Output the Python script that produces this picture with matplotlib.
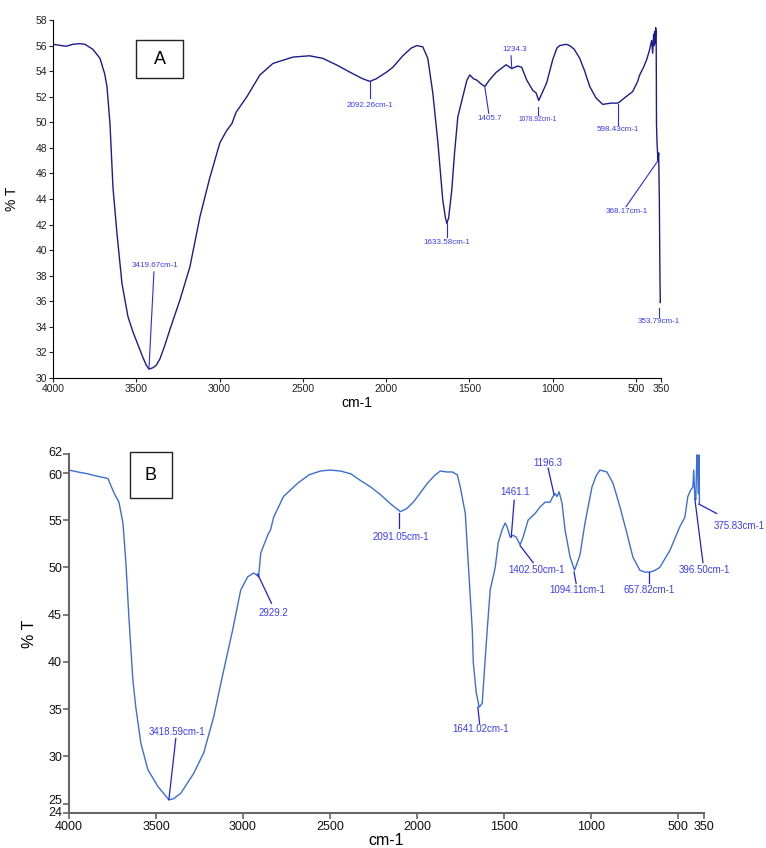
import numpy as np, matplotlib
matplotlib.use("Agg"); import matplotlib.pyplot as plt
from matplotlib.patches import Rectangle
from matplotlib.transforms import ScaledTranslation
plt.rcParams.update({"font.family": ["Liberation Sans", "DejaVu Sans"]})

# --- espectro A (cm-1, %T) ---
wn_a = [4000, 3950, 3920, 3880, 3840, 3808, 3760, 3718, 3690, 3676, 3658, 3640, 3616, 3586,
        3550, 3520, 3496, 3460, 3440, 3424, 3400, 3380, 3358, 3330, 3298, 3238, 3178, 3118,
        3060, 2998, 2960, 2926, 2900, 2836, 2758, 2680, 2560, 2460, 2380, 2300, 2200, 2140,
        2098, 2060, 2000, 1960, 1900, 1850, 1816, 1780, 1750, 1720, 1690, 1660, 1645, 1636,
        1625, 1606, 1590, 1570, 1540, 1515, 1498, 1475, 1456, 1430, 1408, 1380, 1340, 1300,
        1280, 1246, 1210, 1186, 1156, 1120, 1100, 1084, 1060, 1036, 1000, 975, 958, 920, 898,
        870, 838, 808, 778, 740, 700, 650, 610, 598, 560, 520, 490, 478, 455, 436, 420, 406,
        400, 394, 390, 388, 385, 382, 379, 377, 374, 370, 368, 364, 360, 356, 354, 351]
t_a = [56.1, 56.0, 55.95, 56.1, 56.15, 56.1, 55.7, 55.0, 53.8, 52.8, 49.9, 44.9, 41.3, 37.4,
       34.8, 33.6, 32.8, 31.6, 31.0, 30.7, 30.8, 31.0, 31.5, 32.5, 33.8, 36.1, 38.7, 42.6,
       45.6, 48.4, 49.3, 49.9, 50.8, 52.0, 53.7, 54.6, 55.1, 55.2, 55.0, 54.5, 53.8, 53.4,
       53.2, 53.4, 53.9, 54.3, 55.2, 55.8, 56.0, 55.9, 55.0, 52.3, 48.5, 43.9, 42.6, 42.1,
       42.5, 44.7, 47.5, 50.4, 52.0, 53.3, 53.7, 53.4, 53.3, 53.0, 52.8, 53.3, 53.9, 54.3,
       54.5, 54.2, 54.4, 54.3, 53.3, 52.5, 52.3, 51.7, 52.4, 53.1, 54.9, 55.8, 56.0, 56.1, 56.0,
       55.7, 55.0, 54.0, 52.8, 51.9, 51.4, 51.5, 51.5, 51.6, 52.0, 52.4, 53.2, 53.7, 54.3, 54.9,
       55.6, 56.4, 55.4, 56.9, 56.0, 57.1, 56.2, 57.4, 57.0, 49.8, 48.5, 47.4, 47.0, 47.6,
       44.0, 37.5, 35.9, 36.2]

# --- espectro B ---
wn_b = [4000, 3950, 3891, 3850, 3799, 3776, 3742, 3713, 3690, 3673, 3656, 3633, 3616, 3587,
        3547, 3489, 3426, 3400, 3357, 3283, 3225, 3168, 3111, 3059, 3013, 2973, 2939, 2929,
        2910, 2898, 2858, 2841, 2824, 2767, 2686, 2620, 2554, 2500, 2440, 2380, 2325, 2265,
        2210, 2150, 2095, 2060, 2021, 1980, 1940, 1900, 1866, 1830, 1797, 1768, 1751, 1722,
        1705, 1682, 1676, 1659, 1642, 1625, 1608, 1596, 1579, 1550, 1533, 1510, 1493, 1482,
        1464, 1447, 1430, 1407, 1390, 1361, 1321, 1292, 1264, 1235, 1218, 1206, 1195, 1183,
        1166, 1149, 1120, 1094, 1063, 1034, 994, 970, 948, 908, 873, 833, 793, 759, 719, 690,
        661, 630, 604, 546, 489, 460, 443, 426, 414, 409, 403, 397, 391, 388, 383, 379, 376]
t_b = [60.3, 60.1, 59.9, 59.7, 59.5, 59.4, 57.9, 56.9, 54.7, 50.5, 44.8, 38.1, 35.2, 31.4,
       28.6, 26.8, 25.4, 25.5, 26.1, 28.2, 30.4, 34.2, 39.1, 43.4, 47.6, 49.0, 49.4, 49.3,
       49.0, 51.5, 53.4, 54.0, 55.3, 57.5, 58.9, 59.8, 60.2, 60.3, 60.2, 59.9, 59.2, 58.5,
       57.7, 56.7, 55.9, 56.2, 56.9, 57.9, 58.9, 59.7, 60.2, 60.1, 60.1, 59.8, 58.5, 55.7,
       50.4, 43.4, 39.9, 36.7, 35.2, 35.6, 40.2, 43.4, 47.6, 50.0, 52.6, 54.0, 54.7, 54.3,
       53.2, 53.4, 53.2, 52.4, 53.2, 55.0, 55.7, 56.4, 56.9, 56.9, 57.5, 57.8, 57.5, 58.0,
       56.8, 54.0, 51.1, 49.7, 51.3, 54.7, 58.5, 59.7, 60.3, 60.1, 58.9, 56.4, 53.6, 51.1, 49.7, 49.5,
       49.5, 49.7, 50.0, 51.8, 54.3, 55.3, 57.5, 58.2, 58.5, 60.3, 57.5, 57.2, 61.9, 61.9, 57.8, 61.9, 56.7]

# anotaciones: texto, punta (wn, T), extremo de linea (wn, T), posicion texto (wn, T)
ann_a = [("3419.67cm-1", (3424, 30.7), (3394, 38.3), (3388, 38.8)),
         ("2092.26cm-1", (2098, 53.2), (2098, 51.9), (2098, 51.35)),
         ("1633.58cm-1", (1636, 42.1), (1636, 41.0), (1636, 40.6)),
         ("1405.7", (1408, 52.8), (1384, 50.7), (1378, 50.3)),
         ("1234.3", (1246, 54.2), (1250, 55.2), (1230, 55.7)),
         ("1078.92cm-1", (1088, 51.2), (1088, 50.6), (1088, 50.25)),
         ("598.43cm-1", (610, 51.4), (610, 49.8), (610, 49.45)),
         ("368.17cm-1", (368, 47.0), (560, 43.4), (556, 43.0)),
         ("353.79cm-1", (362, 35.5), (362, 34.8), (364, 34.45))]
ann_b = [("3418.59cm-1", (3426, 25.4), (3386, 31.9), (3380, 32.6)),
         ("2929.2", (2916, 49.3), (2836, 46.2), (2824, 45.2)),
         ("2091.05cm-1", (2101, 55.8), (2101, 54.2), (2095, 53.2)),
         ("1641.02cm-1", (1650, 35.2), (1640, 33.5), (1636, 32.9)),
         ("1461.1", (1458, 53.2), (1441, 57.1), (1436, 58.0)),
         ("1402.50cm-1", (1407, 52.3), (1332, 50.5), (1315, 49.7)),
         ("1196.3", (1212, 57.7), (1246, 60.5), (1246, 61.0)),
         ("1094.11cm-1", (1097, 49.5), (1085, 48.3), (1080, 47.6)),
         ("657.82cm-1", (667, 49.5), (667, 48.3), (667, 47.6)),
         ("396.50cm-1", (403, 57.3), (356, 50.5), (345, 49.7)),
         ("375.83cm-1", (380, 56.7), (277, 55.7), (145, 54.4))]

xt = [4000, 3500, 3000, 2500, 2000, 1500, 1000, 500, 350]
W, H = 766, 848
fig = plt.figure(figsize=(W/100, H/100), dpi=100)
axA = fig.add_axes([53/W, 1-378/H, 608/W, 358/H])
axB = fig.add_axes([69/W, 1-813/H, 635/W, 359/H])

# ===== A =====
axA.plot(wn_a, t_a, color="#1c1c8c", lw=1.0)
axA.set_xlim(4000, 350); axA.set_ylim(30, 58)
axA.set_xticks(xt); axA.set_yticks(np.arange(30, 59, 2))
for s in ["top", "right"]: axA.spines[s].set_visible(False)
axA.tick_params(labelsize=7.5, length=3, width=0.8, colors="#222222", pad=1)
axA.set_xlabel("cm-1", fontsize=10, labelpad=2)
axA.set_ylabel("% T", fontsize=10, labelpad=12)
for txt, tip, end, pos in ann_a:
    axA.plot([tip[0], end[0]], [tip[1], end[1]], color="#2a2aee", lw=0.8, clip_on=False)
    fs = 4.8 if txt.startswith("1078") else 5.8
    axA.text(pos[0], pos[1], txt, fontsize=fs, color="#3b3bff", ha="center", va="center", clip_on=False)
axA.add_patch(Rectangle((0.137, 0.838), 0.077, 0.106, transform=axA.transAxes, fill=False, lw=1, ec="#222"))
axA.text(0.1755, 0.889, "A", transform=axA.transAxes, fontsize=13, ha="center", va="center")

# ===== B =====
axB.plot(wn_b, t_b, color="#3b6fd6", lw=1.0)
axB.set_xlim(4000, 350); axB.set_ylim(24, 62)
axB.set_xticks(xt); axB.set_yticks([24, 25, 30, 35, 40, 45, 50, 55, 60, 62])
for s in ["top", "right"]: axB.spines[s].set_visible(False)
for s in ["left", "bottom"]:
    axB.spines[s].set_color("#666666"); axB.spines[s].set_linewidth(1.5)
axB.tick_params(labelsize=9, length=4, width=1.2, color="#666666", labelcolor="#111111")
axB.tick_params(axis="y", pad=1)
axB.tick_params(axis="x", pad=2)
# 24/25 y 60/62 quedan muy juntos: separar un poco las etiquetas
yl = axB.get_yticklabels()
for lab, dy in zip(yl, [1, 4, 0, 0, 0, 0, 0, 0, -2, 3]):
    if dy:
        lab.set_transform(lab.get_transform() + ScaledTranslation(0, dy/100, fig.dpi_scale_trans))
axB.set_xlabel("cm-1", fontsize=11.5, labelpad=0)
axB.set_ylabel("% T", fontsize=11.5, labelpad=8)
for txt, tip, end, pos in ann_b:
    axB.plot([tip[0], end[0]], [tip[1], end[1]], color="#1f1fe0", lw=0.9, clip_on=False)
    axB.text(pos[0], pos[1], txt, fontsize=7, color="#3b3bff", ha="center", va="center", clip_on=False)
axB.add_patch(Rectangle((0.096, 0.877), 0.066, 0.129, transform=axB.transAxes, fill=False, lw=1, ec="#222",
                        clip_on=False))
axB.text(0.129, 0.94, "B", transform=axB.transAxes, fontsize=13, ha="center", va="center")

fig.savefig("out.png", dpi=100)
